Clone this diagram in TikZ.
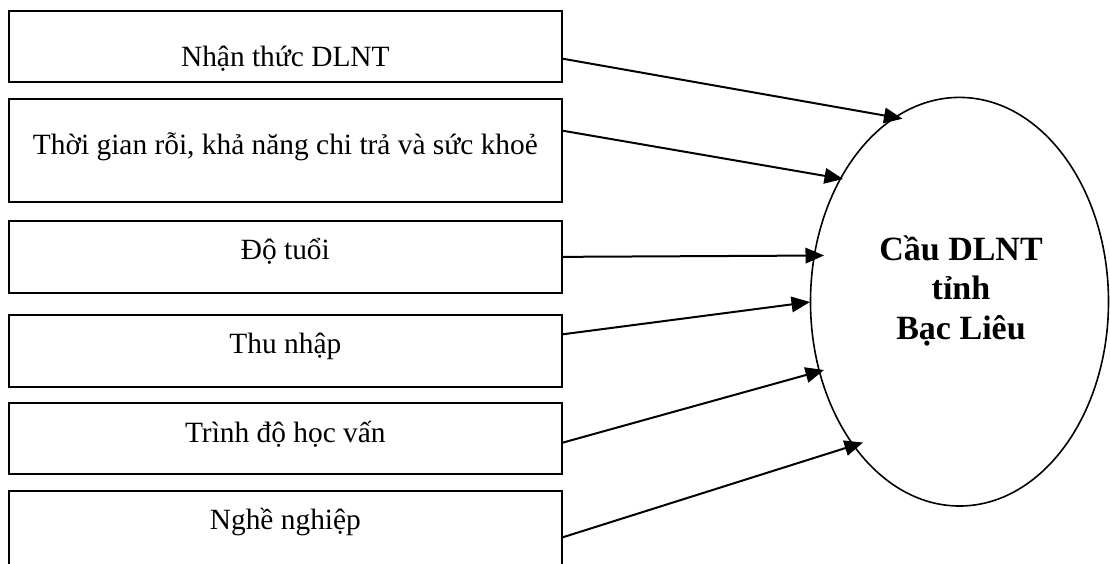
\documentclass[tikz,border=0pt]{standalone}
\usepackage{fontspec}
\setmainfont{Liberation Serif}
\usetikzlibrary{shapes.geometric,arrows.meta}
\begin{document}
\begin{tikzpicture}[x=1pt,y=-1pt,
  box/.style={draw, line width=2pt, rectangle, inner sep=0pt, minimum width=552.7pt,
    anchor=north west, font=\fontsize{29.4}{35}\selectfont},
  conn/.style={line width=2pt, -{Triangle[length=18.5pt,width=15.5pt]}},
]
\useasboundingbox (0,0) rectangle (1110,563);
\fill[white] (0,0) rectangle (1110,563);
\clip (0,0) rectangle (1110,563);
\node[box, text height=55pt, text depth=16pt] (b1) at (8,10) {Nhận thức DLNT};
\node[box, text height=55pt, text depth=48pt] (b2) at (8,98) {Thời gian rỗi, khả năng chi trả và sức khoẻ};
\node[box, text height=38.3pt, text depth=33.4pt] (b3) at (8,220) {Độ tuổi};
\node[box, text height=39pt, text depth=33pt] (b4) at (8,313.7) {Thu nhập};
\node[box, text height=39pt, text depth=32.3pt] (b5) at (8,402) {Trình độ học vấn};
\node[box, text height=38pt, text depth=120pt] (b6) at (8,490) {Nghề nghiệp};
\node[draw, ellipse, line width=1.6pt, minimum width=298pt, minimum height=408.6pt, inner sep=0pt] (ell) at (959.5,301.7) {};
\node[font=\fontsize{34}{39.5}\selectfont\bfseries, align=center, anchor=base, inner sep=0pt] (lbl) at (961,339) {Cầu DLNT\\tỉnh\\Bạc Liêu};
\draw[conn] ([yshift=-12.2pt]b1.east) -- ([shift={(-57pt,183pt)}]ell.center);
\draw[conn] ([yshift=19.8pt]b2.east) -- ([shift={(-116.5pt,122.7pt)}]ell.center);
\draw[conn] (b3.east) -- ([shift={(-135.5pt,46.2pt)}]ell.center);
\draw[conn] ([yshift=16.4pt]b4.east) -- ([shift={(-149.5pt,-0.3pt)}]ell.center);
\draw[conn] ([yshift=-4pt]b5.east) -- ([shift={(-135.5pt,-68.3pt)}]ell.center);
\draw[conn] ([yshift=-47.3pt]b6.north east) -- ([shift={(-96.5pt,-140.8pt)}]ell.center);
\end{tikzpicture}
\end{document}
